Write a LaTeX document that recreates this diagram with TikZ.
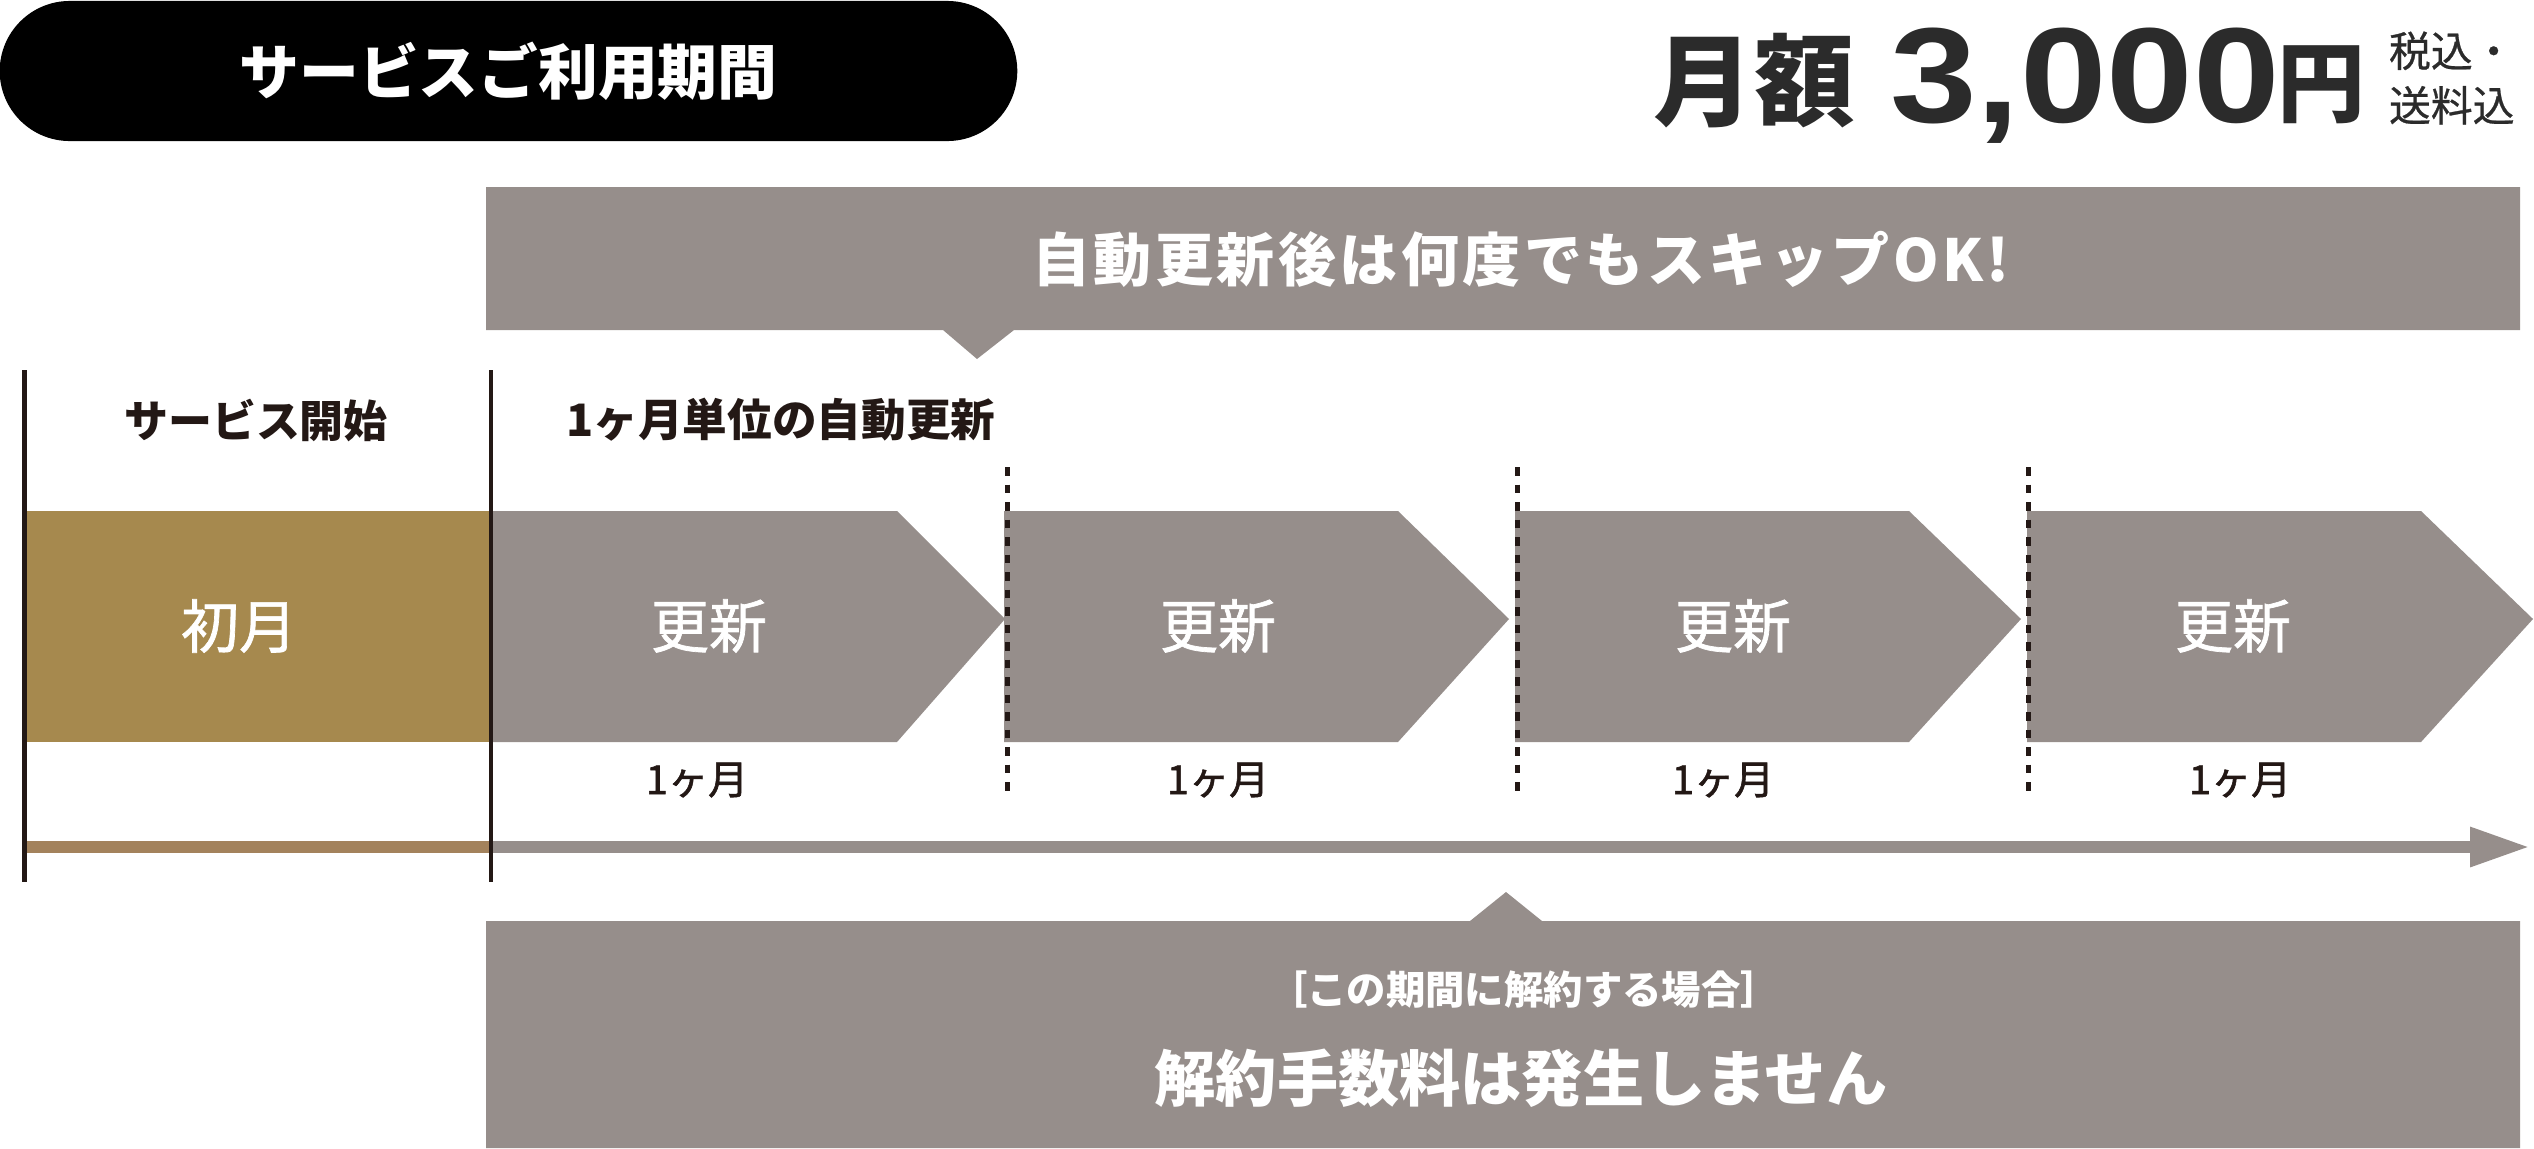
\documentclass[tikz,border=0pt]{standalone}
\usepackage{fontspec}
\usepackage{graphicx}
\setmainfont{Noto Sans CJK JP}
\newfontfamily\numfont{Liberation Sans}
\usetikzlibrary{arrows.meta}
\definecolor{tlgray}{RGB}{150,142,139}
\definecolor{tlgold}{RGB}{166,137,78}
\definecolor{goldline}{RGB}{163,130,92}
\definecolor{ink}{RGB}{35,24,21}
\definecolor{price}{RGB}{43,43,43}
\begin{document}
\begin{tikzpicture}[x=0.01cm,y=-0.01cm,
  txt/.style={inner sep=0pt, outer sep=0pt},
  wtxt/.style={txt, text=white},
  lbl/.style={txt, text=ink, font=\bfseries\fontsize{12.5pt}{15pt}\selectfont},
  boxtxt/.style={wtxt, font=\fontsize{16.5pt}{19pt}\selectfont\addfontfeature{FakeBold=1.2}},
  mtxt/.style={txt, text=ink, font=\fontsize{11.4pt}{14pt}\selectfont\addfontfeature{FakeBold=1.5}},
  chev/.style={fill=tlgray},
  solidline/.style={draw=ink, line width=0.04cm},
  dashline/.style={draw=ink, line width=0.05cm, dash pattern=on 0.085cm off 0.09cm},
  pill/.style={fill=black, rounded corners=0.7cm, minimum width=10.17cm, minimum height=1.4cm, inner sep=0pt, text=white, font=\bfseries\fontsize{17pt}{20pt}\selectfont}
]
\useasboundingbox (0,0) rectangle (2534,1148);

% title pill
\node[pill] (title) at (508.5,71) {\raisebox{0.05cm}{サービスご利用期間}};

% price
\node[txt, text=price, font=\bfseries\fontsize{28.5pt}{32pt}\selectfont] (getsugaku) at (1754,81) {月額};
\node[txt, text=price, font=\numfont\bfseries\fontsize{38.5pt}{42pt}\selectfont] (amount) at (2085,85.5) {\scalebox{1.15}[1]{3,000}};
\node[txt, text=price, font=\bfseries\fontsize{25pt}{28pt}\selectfont] (yen) at (2321,85) {円};
\node[txt, text=price, anchor=west, align=left, font=\fontsize{11.9pt}{15.5pt}\selectfont\addfontfeature{FakeBold=0.6}] (tax) at (2389,78) {税込・\\送料込};

% top banner
\fill[tlgray] (486,187) -- (2520,187) -- (2520,330) -- (1014,330) -- (977,359) -- (943,330) -- (486,330) -- cycle;
\node[wtxt, font=\bfseries\fontsize{16.5pt}{19pt}\selectfont\addfontfeature{LetterSpace=6}] (skip) at (1521,259) {自動更新後は何度でもスキップOK!};

% labels
\node[lbl] (start) at (256,420) {サービス開始};
\node[lbl, font=\bfseries\fontsize{12.7pt}{15pt}\selectfont] (auto) at (781,420) {1ヶ月単位の自動更新};

% first month box and chevrons
\fill[tlgold] (25,511) rectangle (490,742);
\fill[chev] (491,511) -- (897,511) -- (1005,619) -- (897,742) -- (491,742) -- cycle;
\fill[chev] (1004,511) -- (1398,511) -- (1509,619) -- (1398,742) -- (1004,742) -- cycle;
\fill[chev] (1515,511) -- (1909,511) -- (2021,619) -- (1909,742) -- (1515,742) -- cycle;
\fill[chev] (2027,511) -- (2421,511) -- (2533,619) -- (2421,742) -- (2027,742) -- cycle;

\node[boxtxt] (first) at (239,626) {初月};
\node[boxtxt] (r1) at (709,626) {更新};
\node[boxtxt] (r2) at (1218,626) {更新};
\node[boxtxt] (r3) at (1733,626) {更新};
\node[boxtxt] (r4) at (2233,626) {更新};

\node[mtxt] (m1) at (697,780) {1ヶ月};
\node[mtxt] (m2) at (1218,780) {1ヶ月};
\node[mtxt] (m3) at (1723,780) {1ヶ月};
\node[mtxt] (m4) at (2240,780) {1ヶ月};

% dashed separators
\coordinate (d1a) at (1007.5,467); \coordinate (d1b) at (1007.5,798);
\coordinate (d2a) at (1517.5,467); \coordinate (d2b) at (1517.5,798);
\coordinate (d3a) at (2028.5,467); \coordinate (d3b) at (2028.5,798);
\draw[dashline] (d1a) -- (d1b);
\draw[dashline] (d2a) -- (d2b);
\draw[dashline] (d3a) -- (d3b);

% timeline
\coordinate (t0) at (25,847);
\coordinate (t1) at (491,847);
\coordinate (t2) at (2530,847);
\draw[goldline, line width=0.12cm] (t0) -- (t1);
\draw[tlgray, line width=0.12cm, -{Triangle[length=0.6cm,width=0.37cm]}] (t1) -- (t2);

% solid vertical lines
\coordinate (v1a) at (24.5,370); \coordinate (v1b) at (24.5,882);
\coordinate (v2a) at (490.5,370); \coordinate (v2b) at (490.5,882);
\draw[solidline] (v1a) -- (v1b);
\draw[solidline] (v2a) -- (v2b);

% bottom banner
\fill[tlgray] (486,921) -- (1470,921) -- (1506,892) -- (1542,921) -- (2520,921) -- (2520,1148) -- (486,1148) -- cycle;
\node[wtxt, font=\bfseries\fontsize{11.2pt}{14pt}\selectfont] (cond) at (1524,990) {［この期間に解約する場合］};
\node[wtxt, font=\bfseries\fontsize{17.4pt}{20pt}\selectfont] (nofee) at (1521,1078) {解約手数料は発生しません};
\end{tikzpicture}
\end{document}
